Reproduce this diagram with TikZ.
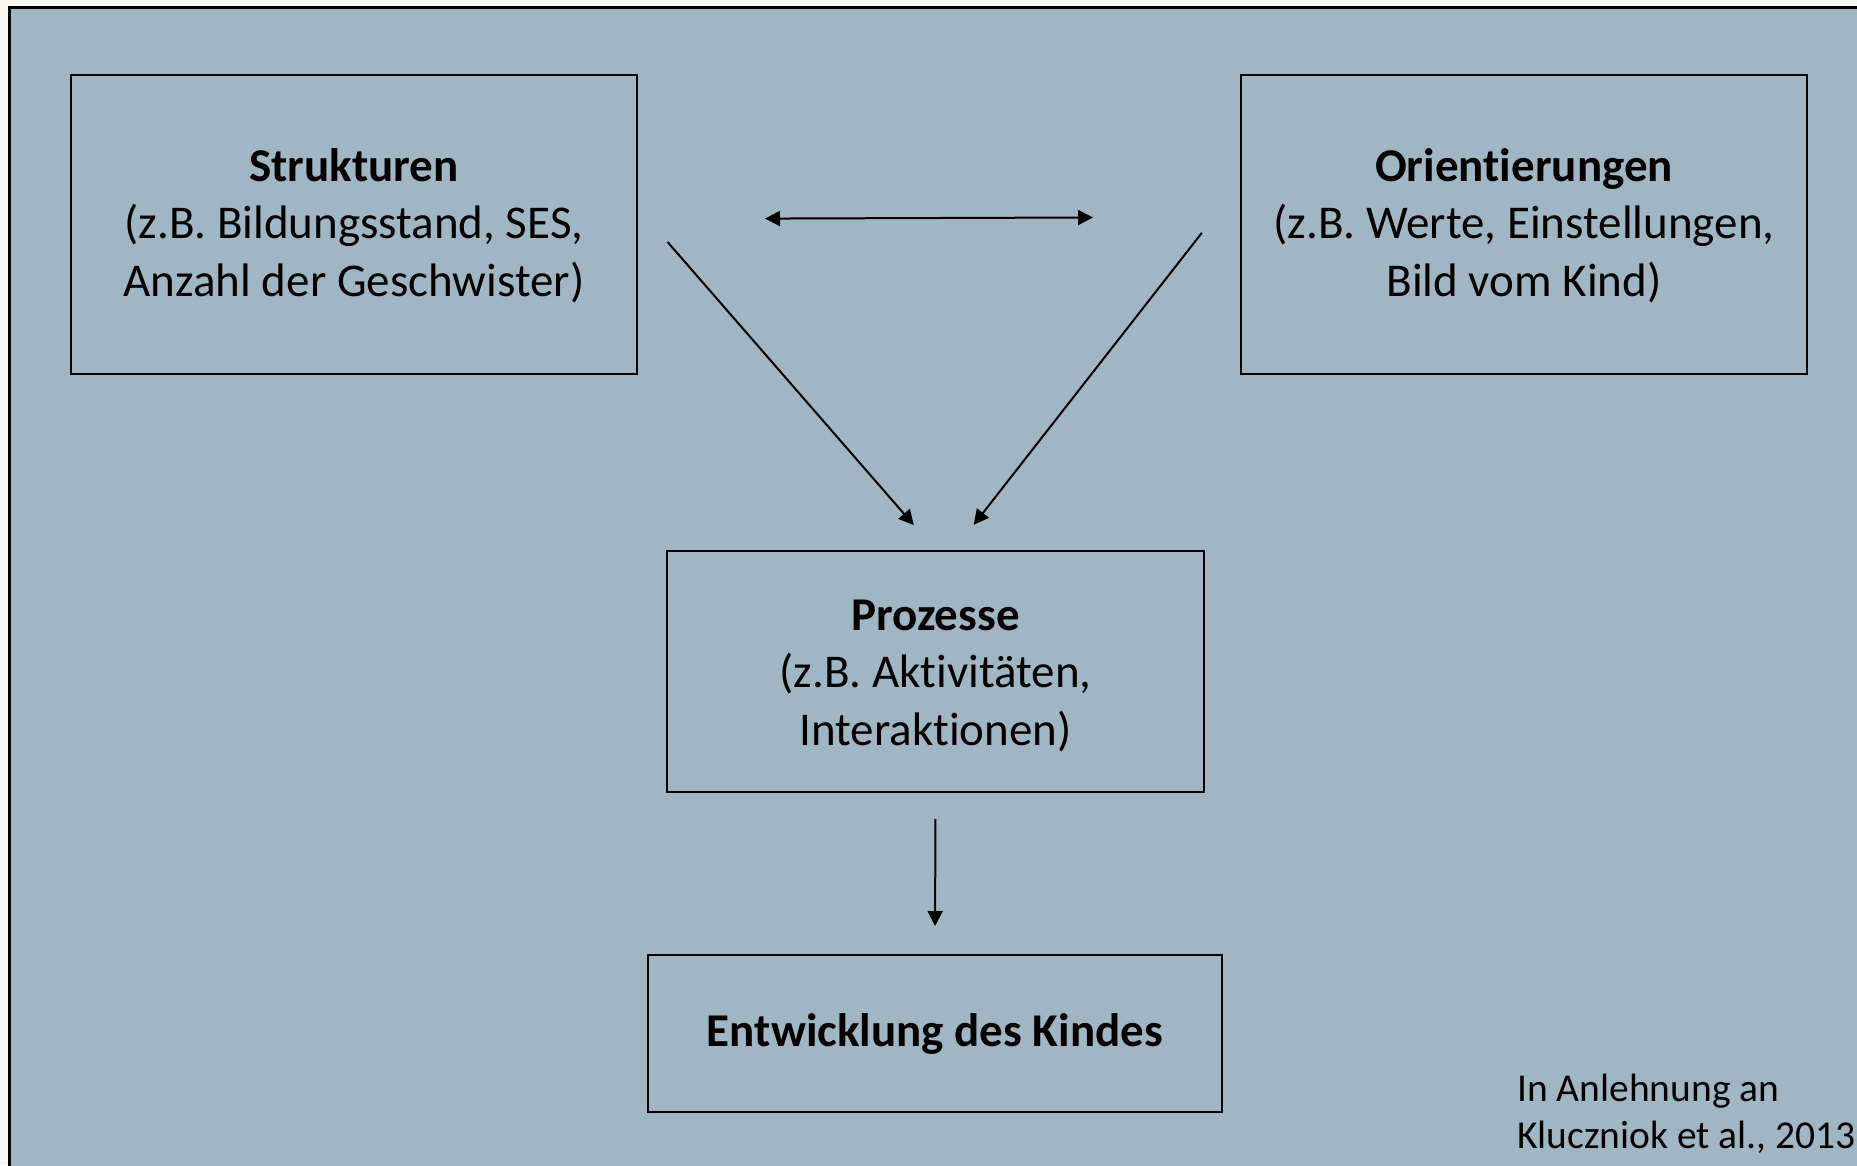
\documentclass[tikz,border=0pt]{standalone}
\usepackage{fontspec}
\setmainfont{Carlito}[Ligatures={NoCommon,NoContextual},RawFeature={-liga;-clig}]
\usetikzlibrary{arrows.meta}
\definecolor{bgframe}{HTML}{A0B6C3}
\definecolor{paper}{HTML}{FAF8F3}
\begin{document}
\begin{tikzpicture}[x=1pt,y=-1pt,
  box/.style={draw=black, line width=2pt, inner sep=0pt, align=center, text depth=0pt, font=\fontsize{47}{57.2}\selectfont},
  conn/.style={line width=2pt, -{Triangle[length=15pt,width=15pt]}},
  dconn/.style={line width=2pt, {Triangle[length=15pt,width=15pt]}-{Triangle[length=15pt,width=15pt]}},
  note/.style={anchor=base west, align=left, inner sep=0pt, font=\fontsize{39.5}{46.5}\selectfont}
]
\useasboundingbox (0,0) rectangle (1857,1165);
\fill[paper] (0,0) rectangle (1857,1165);
\draw[fill=bgframe, line width=3pt] (9,7) rectangle (1880,1190);

\node[box, minimum width=566pt, minimum height=299pt, text height=143pt] (s) at (354,224.5)
  {\textbf{Strukturen}\\(z.B. Bildungsstand, SES,\\Anzahl der Geschwister)};
\node[box, minimum width=566pt, minimum height=299pt, text height=143pt] (o) at (1524,224.5)
  {\textbf{Orientierungen}\\(z.B. Werte, Einstellungen,\\Bild vom Kind)};
\node[box, minimum width=537pt, minimum height=241pt, text height=147pt] (p) at (935.5,671.5)
  {\textbf{Prozesse}\\(z.B. Aktivitäten,\\Interaktionen)};
\node[box, minimum width=574pt, minimum height=157pt, text height=26.4pt] (e) at (935,1033.5)
  {\textbf{Entwicklung des Kindes}};

\draw[dconn, shorten <=127pt, shorten >=147pt] ([yshift=5.5pt]s.east) -- ([yshift=7.5pt]o.west);
\draw[conn, shorten <=45pt, shorten >=33pt] ([yshift=16.5pt]s.east) -- (p.north);
\draw[conn, shorten <=62pt, shorten >=32pt] ([yshift=40.5pt]o.west) -- ([xshift=18.5pt]p.north);
\draw[conn, shorten <=26pt, shorten >=28pt] (p.south) -- (e.north);

\node[note] (c) at (1517,1148) {In Anlehnung an\\Kluczniok et al., 2013};
\end{tikzpicture}
\end{document}
